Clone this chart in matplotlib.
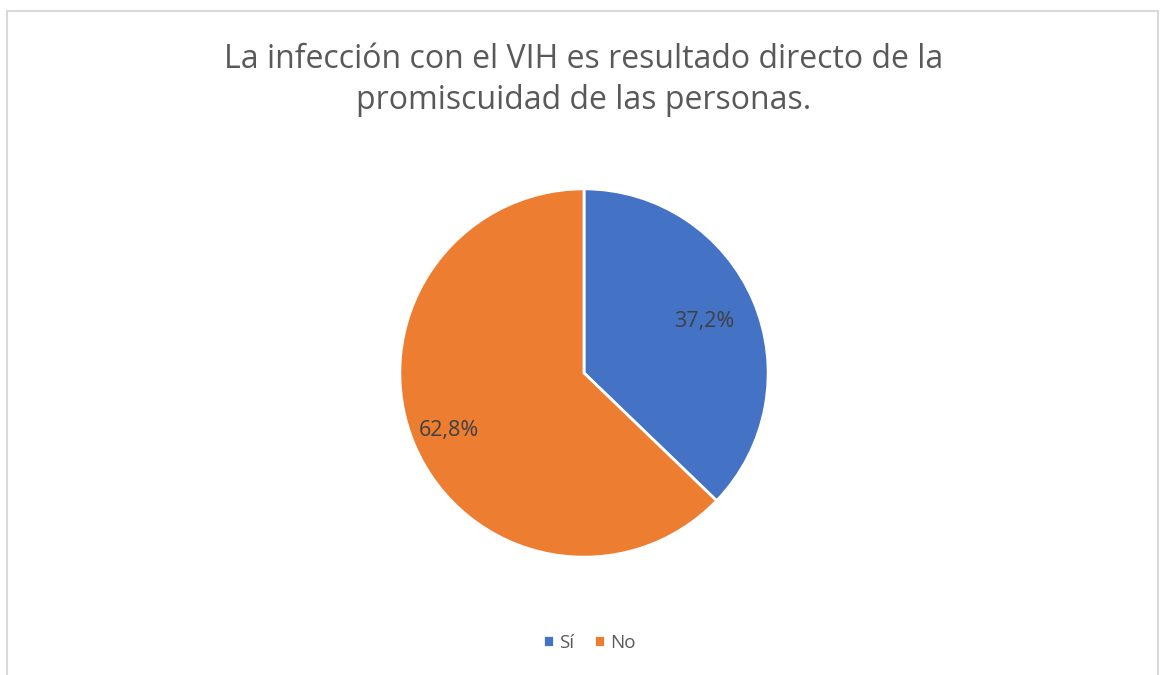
import matplotlib.pyplot as plt
import numpy as np
from matplotlib.patches import Rectangle

# survey answers
labels = ['Sí', 'No']
values = [37.2, 62.8]
colors = ['#4472C4', '#ED7D31']
title = 'La infección con el VIH es resultado directo de la\npromiscuidad de las personas.'

plt.rcParams['font.family'] = ['Open Sans', 'DejaVu Sans']

fig = plt.figure(figsize=(11.6, 6.75), dpi=100)

# chart border
fig.patches.append(Rectangle((7 / 1160, -0.01), 1151 / 1160, 1 - 11 / 675 + 0.01,
                             transform=fig.transFigure, fill=False,
                             edgecolor='#d9d9d9', linewidth=1.5))

fig.text(0.5034, 1 - 80 / 675, title, ha='center', va='center', fontsize=23,
         color='#595959', linespacing=1.33)

ax = fig.add_axes([(584 - 186) / 1160, 1 - (373 + 186) / 675, 372 / 1160, 372 / 675])
wedges, texts, autotexts = ax.pie(values, colors=colors, startangle=90, counterclock=False,
                                  autopct=lambda p: f'{p:.1f}%'.replace('.', ','),
                                  pctdistance=0.75,
                                  wedgeprops=dict(edgecolor='white', linewidth=2),
                                  textprops=dict(fontsize=15.5, color='#404040'))
# excel puts the labels at slightly different radii
for t, r in zip(autotexts, [0.71, 0.80]):
    x, y = t.get_position()
    t.set_position((x * r / 0.75, y * r / 0.75))
ax.set_xlim(-1.01, 1.01)
ax.set_ylim(-1.01, 1.01)
ax.set_aspect('equal')

leg = fig.legend(wedges, labels, loc='center', bbox_to_anchor=(0.508, 1 - 643 / 675),
                 ncol=2, frameon=False, fontsize=13.5, handlelength=0.6, handleheight=0.6,
                 handletextpad=0.25, columnspacing=1.05)
for t in leg.get_texts():
    t.set_color('#595959')

plt.savefig('out.png', dpi=100)
